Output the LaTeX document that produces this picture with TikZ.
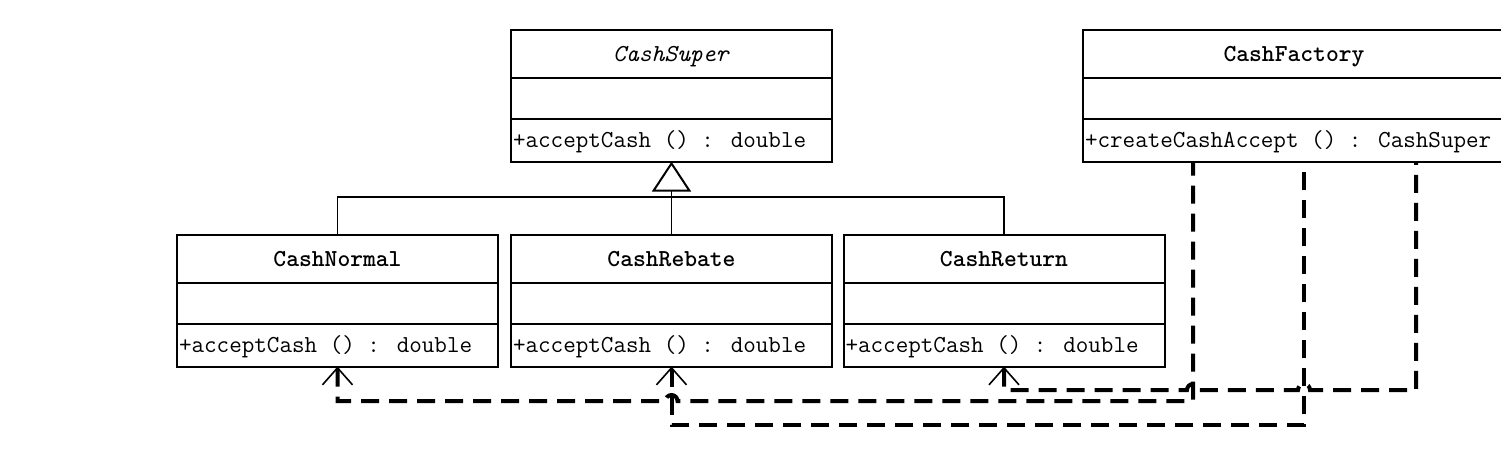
\documentclass[tikz,border=0pt]{standalone}
\usetikzlibrary{arrows.meta,shapes.multipart}

\newcommand{\umlfont}{\ttfamily\fontsize{12.2}{14}\selectfont}
\newcommand{\namerow}{\rule[-7.6pt]{0pt}{23pt}}
\newcommand{\emptyrow}{\rule{0pt}{19.5pt}}
\newcommand{\oprow}{\rule[-6.6pt]{0pt}{20.3pt}}

\tikzset{
  umlclass/.style={draw, line width=1pt, rectangle split, rectangle split parts=3,
    rectangle split part align={center,left}, minimum width=160.5pt,
    inner xsep=1pt, inner ysep=0pt, outer sep=0pt, font=\umlfont, anchor=north},
  generalize/.style={line width=0.6pt},
  dependency/.style={line width=2pt, dash pattern=on 9pt off 5pt,
    {Straight Barb[length=8.5pt,width=15pt,line width=0.8pt]}-},
}

\begin{document}
\begin{tikzpicture}[x=0.5pt,y=-0.5pt]
\path[use as bounding box,fill=white] (0,0) rectangle (1501,457);
\clip (0,0) rectangle (1501,457);

% classes
\node[umlclass] (super) at (671.5,30)
  {\namerow\textit{CashSuper}\nodepart{second}\emptyrow\nodepart{third}\oprow+acceptCash () : double};
\node[umlclass, anchor=north west, minimum width=211pt] (factory) at (1083,30)
  {\namerow\textbf{CashFactory}\nodepart{second}\emptyrow\nodepart{third}\oprow+createCashAccept () : CashSuper};

\node[umlclass] (normal) at (337.5,235)
  {\namerow\textbf{CashNormal}\nodepart{second}\emptyrow\nodepart{third}\oprow+acceptCash () : double};
\node[umlclass] (rebate) at (671.5,235)
  {\namerow\textbf{CashRebate}\nodepart{second}\emptyrow\nodepart{third}\oprow+acceptCash () : double};
\node[umlclass] (return) at (1004,235)
  {\namerow\textbf{CashReturn}\nodepart{second}\emptyrow\nodepart{third}\oprow+acceptCash () : double};

% generalization
\coordinate (fork) at (671.5,197);
\draw[generalize] (normal.north) |- (fork) -| (return.north);
\draw[generalize, -{Triangle[open,length=15pt,width=19.5pt,line width=1pt]}] (rebate.north) -- (super.south);

% dependencies of the factory
\coordinate (out1) at ([xshift=55pt]factory.south west);
\coordinate (out2) at ([xshift=110.5pt]factory.south west);
\coordinate (out3) at ([xshift=166.5pt]factory.south west);
\coordinate (lane a) at (0,390);
\coordinate (lane b) at (0,401);
\coordinate (lane c) at (0,425);

\draw[dependency] (normal.south) -- (normal.south |- lane b)
  -- ([xshift=-3pt]rebate.south |- lane b) arc[start angle=180,end angle=0,radius=3pt]
  -- (out1 |- lane b) -- (out1);
\draw[dependency] (rebate.south) |- (out2 |- lane c) -- (out2);
\draw[dependency] (return.south) -- (return.south |- lane a)
  -- ([xshift=-3pt]out1 |- lane a) arc[start angle=180,end angle=0,radius=3pt]
  -- ([xshift=-3pt]out2 |- lane a) arc[start angle=180,end angle=0,radius=3pt]
  -- (out3 |- lane a) -- (out3);
\end{tikzpicture}
\end{document}
